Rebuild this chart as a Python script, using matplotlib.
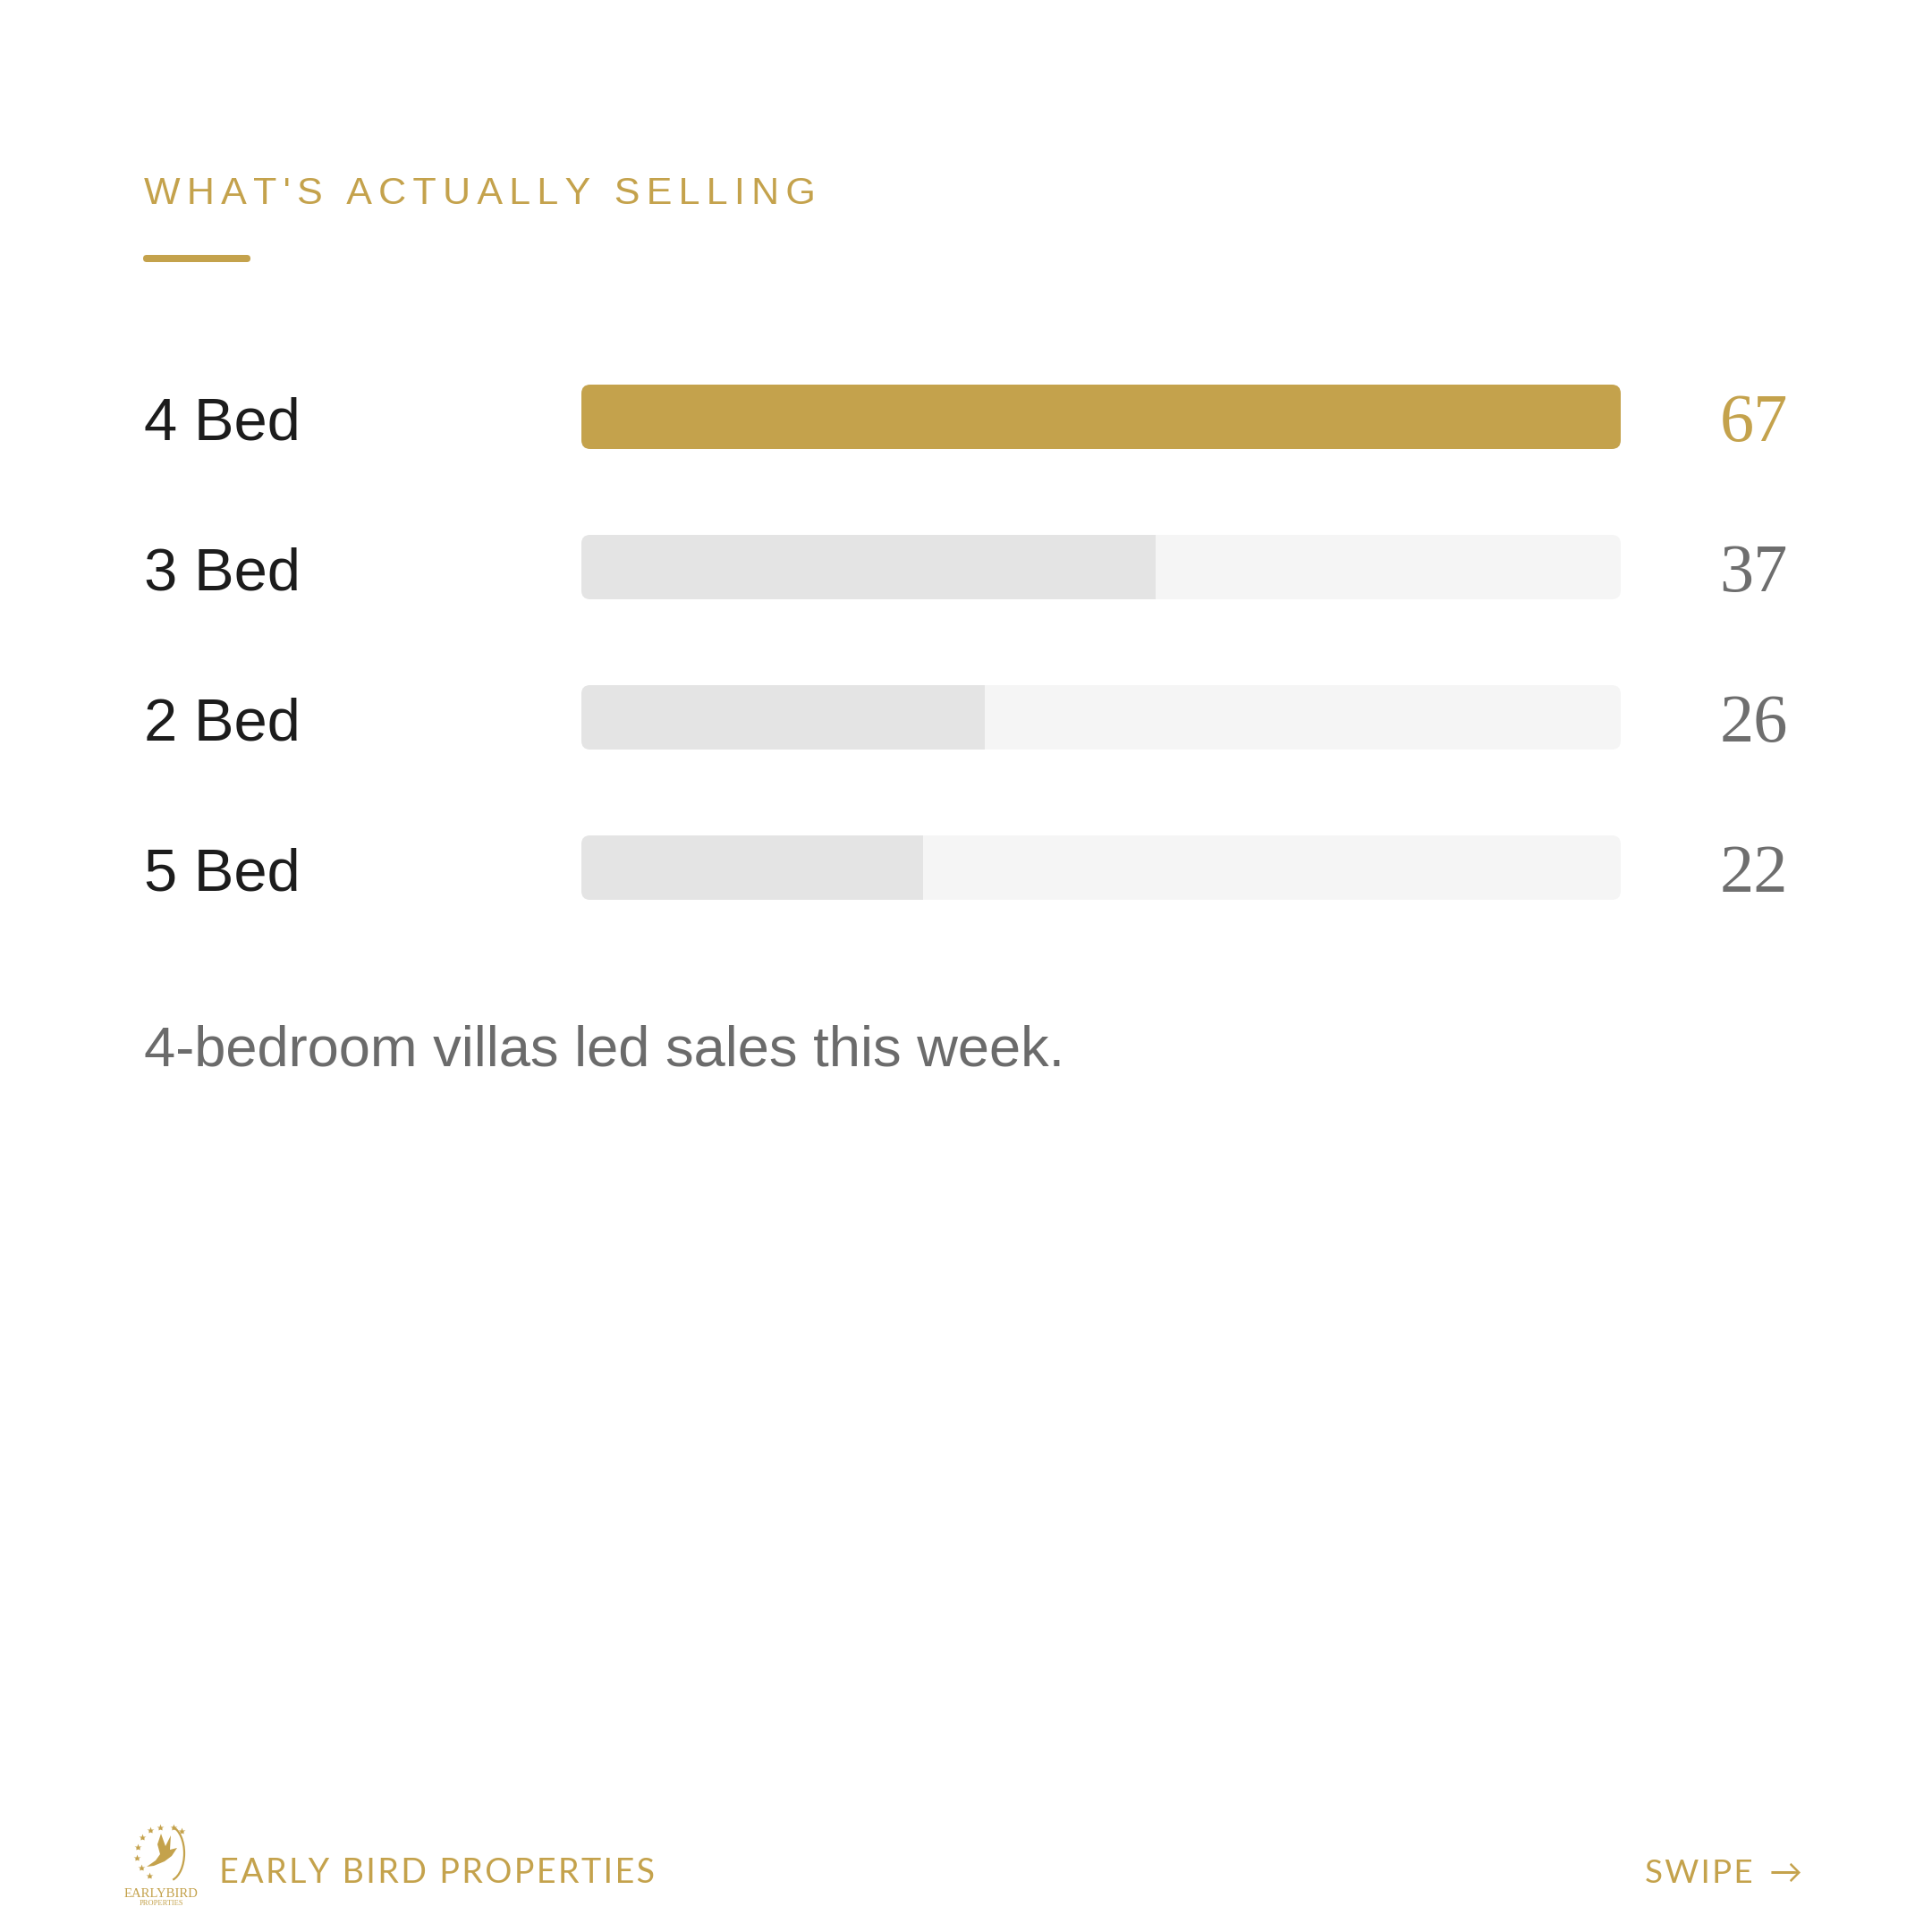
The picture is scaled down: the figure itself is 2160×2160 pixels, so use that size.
import math
import matplotlib
matplotlib.use("Agg")
import matplotlib.pyplot as plt
import matplotlib.transforms as mtransforms
from matplotlib.patches import FancyBboxPatch, Rectangle, Polygon, Arc
from matplotlib import font_manager

# ---------------- data ----------------
categories = ["4 Bed", "3 Bed", "2 Bed", "5 Bed"]
values = [67, 37, 26, 22]
title = "WHAT'S ACTUALLY SELLING"
subtitle = "4-bedroom villas led sales this week."
brand = "EARLY BIRD PROPERTIES"
cta_word = "SWIPE"
cta_arrow = "\u2192"
logo_top = "EARLYBIRD"
logo_bottom = "PROPERTIES"

# ---------------- style ----------------
GOLD = "#C4A24C"
FILL = "#E4E4E4"
TRACK = "#F5F5F5"
DARK = "#1C1C1C"
GREY = "#6E6E6E"
SUBGREY = "#6B6B6B"

names = {f.name for f in font_manager.fontManager.ttflist}
if "Liberation Sans Narrow" in names:
    SANS = ["Liberation Sans Narrow", "Liberation Sans", "DejaVu Sans"]
else:
    SANS = ["Liberation Sans", "DejaVu Sans"]
SERIF = ["Liberation Serif", "DejaVu Serif"]
FOOT = ["Lato", "DejaVu Sans"]
HAIR = "\u200a"
THIN = "\u2009"

W = H = 2160
DPI = 200
fig = plt.figure(figsize=(W / DPI, H / DPI), dpi=DPI, facecolor="white")
R = fig.canvas.get_renderer()


def track(s, sp):
    return sp.join(s)


def put(xpx, ypx, s, fs, family, color, ha="left", target_w=None, **kw):
    t = fig.text(xpx / W, 1 - ypx / H, s, fontsize=fs, family=family,
                 color=color, ha=ha, va="baseline", **kw)
    if target_w:
        w = t.get_window_extent(R).width
        t.set_fontsize(fs * target_w / w)
    return t


# overlay axes in pixel coordinates (decorations)
ov = fig.add_axes([0, 0, 1, 1], zorder=0)
ov.set_xlim(0, W)
ov.set_ylim(H, 0)
ov.axis("off")

# title + underline
put(161, 228, track(title, HAIR + HAIR), 18, SANS, GOLD, target_w=748)
ov.add_patch(FancyBboxPatch((160, 285), 120, 8,
                            boxstyle="round,pad=0,rounding_size=4",
                            fc=GOLD, ec="none"))

# ---------------- bars ----------------
n = len(values)
vmax = max(values)
ax = fig.add_axes([650 / W, 1 - 1054 / H, (1812 - 650) / W, 672 / H], zorder=1)
ax.set_xlim(0, vmax)
ax.set_ylim(n - 0.5, -0.5)
ax.axis("off")

bh = 72 / 168
ypos = list(range(n))
tracks = ax.barh(ypos, [vmax] * n, height=bh)
fills = ax.barh(ypos, values, height=bh)
for b in list(tracks) + list(fills):
    b.set_visible(False)

bb = ax.get_window_extent(R)
px_x = bb.width / vmax
px_y = bb.height / n
rad_px = 10
rs = rad_px / px_x
ma = (rad_px / px_y) / rs

for tb, fb, v in zip(tracks, fills, values):
    x0, y0 = tb.get_x(), tb.get_y()
    w, h = tb.get_width(), tb.get_height()
    ax.add_patch(FancyBboxPatch((x0, y0), w, h,
                                boxstyle=f"round,pad=0,rounding_size={rs}",
                                mutation_aspect=ma, fc=TRACK, ec="none"))
    p = FancyBboxPatch((x0, y0), w, h,
                       boxstyle=f"round,pad=0,rounding_size={rs}",
                       mutation_aspect=ma,
                       fc=GOLD if v == vmax else FILL, ec="none")
    ax.add_patch(p)
    clip = Rectangle((fb.get_x(), fb.get_y()), fb.get_width(), fb.get_height(),
                     transform=ax.transData)
    p.set_clip_path(clip)

# labels and values
blend = mtransforms.blended_transform_factory(fig.transFigure, ax.transData)
lab_tr = mtransforms.offset_copy(blend, fig=fig, y=-26 * 72 / DPI, units="points")
val_tr = mtransforms.offset_copy(blend, fig=fig, y=-27 * 72 / DPI, units="points")

lab0 = ax.text(161 / W, 0, categories[0], transform=lab_tr, fontsize=27,
               family=SANS, color=DARK, va="baseline", ha="left")
lw = lab0.get_window_extent(R).width
lab_fs = 27 * 175 / lw
lab0.set_fontsize(lab_fs)
for i, c in enumerate(categories[1:], start=1):
    ax.text(161 / W, i, c, transform=lab_tr, fontsize=lab_fs, family=SANS,
            color=DARK, va="baseline", ha="left")

for i, v in enumerate(values):
    ax.text(1999 / W, i, f"{v}", transform=val_tr, fontsize=27.5, family=SERIF,
            color=GOLD if v == vmax else GREY, va="baseline", ha="right")

# subtitle
put(161, 1191, subtitle, 27, SANS, SUBGREY, target_w=1030)

# ---------------- footer ----------------
put(245, 2105, track(brand, HAIR), 14, FOOT, GOLD, target_w=485)
put(2015, 2105, track(cta_word, HAIR) + THIN + " " + THIN + cta_arrow, 14, FOOT,
    GOLD, ha="right", target_w=176)

# logo
cx, cy = 182, 2072
star_angles = [95, 118, 142, 166, 190, 214, 238]
for a in star_angles:
    ar = math.radians(a)
    ov.plot(cx + 29 * math.cos(ar), cy - 29 * math.sin(ar), marker="*",
            ms=3.0, color=GOLD, mec="none")
ov.plot(cx + 12, cy - 29, marker="*", ms=3.0, color=GOLD, mec="none")
ov.plot(cx + 21, cy - 25, marker="*", ms=3.0, color=GOLD, mec="none")
ov.add_patch(Arc((cx + 6, cy), 36, 62, theta1=-80, theta2=80, color=GOLD, lw=0.8))
bird = [(cx - 2, cy - 22), (cx + 3, cy - 8), (cx + 9, cy - 20), (cx + 8, cy - 4),
        (cx + 16, cy - 6), (cx + 10, cy + 3), (cx + 2, cy + 9), (cx - 10, cy + 14),
        (cx - 18, cy + 15), (cx - 8, cy + 8), (cx - 3, cy + 1), (cx - 6, cy - 10)]
ov.add_patch(Polygon(bird, closed=True, fc=GOLD, ec="none"))
ov.text(cx - 2, 2121, logo_top, fontsize=5.3, family=SERIF, color=GOLD,
        ha="center", va="baseline")
ov.text(cx - 2, 2130, logo_bottom, fontsize=3.0, family=SERIF, color=GOLD,
        ha="center", va="baseline")

fig.savefig("out.png", dpi=DPI, facecolor="white")
